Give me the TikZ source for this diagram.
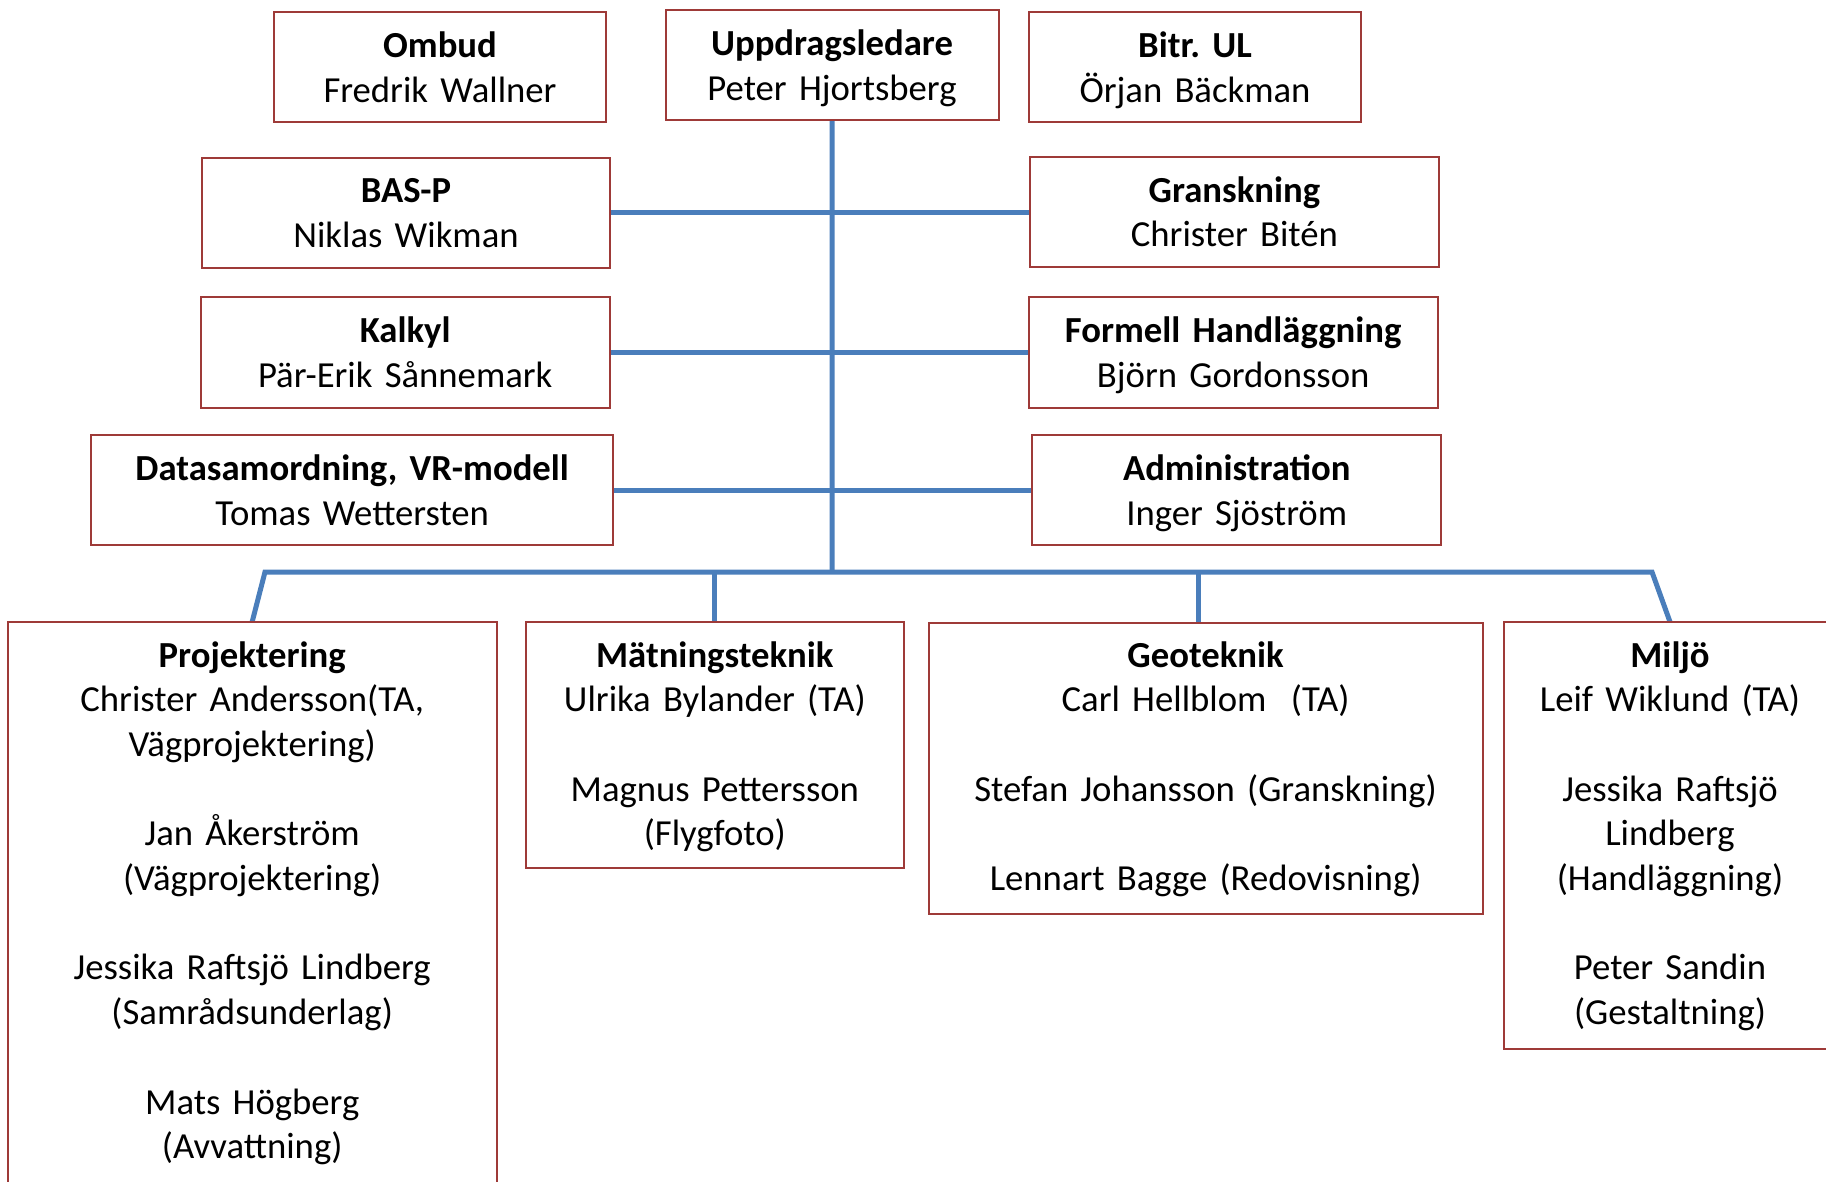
\documentclass[tikz,border=0pt]{standalone}
\usepackage{fontspec}
\setmainfont{Carlito}
\frenchspacing
\usetikzlibrary{backgrounds}
\definecolor{boxred}{RGB}{158,58,56}
\definecolor{lineblue}{RGB}{74,126,187}
\begin{document}
\begin{tikzpicture}[x=0.5pt,y=-0.5pt,
  box/.style={draw=boxred, line width=1pt, fill=white, inner sep=0pt, outer sep=0pt, anchor=north west},
  txt/.style={anchor=base, align=center, text width=340pt, inner sep=0pt, outer sep=0pt,
              font=\frenchspacing\fontsize{18.35pt}{22.35pt}\selectfont},
  conn/.style={draw=lineblue, line width=2.5pt}]
\useasboundingbox (0,0) rectangle (1826,1182);
% boxes
\node[box, minimum width=166.2pt,  minimum height=55.1pt]  (ombud) at (273.7,12.2) {};
\node[box, minimum width=166.55pt, minimum height=54.75pt] (upp)   at (665.5,10.3) {};
\node[box, minimum width=166.25pt, minimum height=55.1pt]  (bitr)  at (1028.9,12.2) {};
\node[box, minimum width=204.1pt,  minimum height=55.1pt]  (basp)  at (202,157.7) {};
\node[box, minimum width=204.4pt,  minimum height=55.1pt]  (gran)  at (1030,156.9) {};
\node[box, minimum width=204.35pt, minimum height=55.1pt]  (kalk)  at (200.9,297.3) {};
\node[box, minimum width=204.35pt, minimum height=55.1pt]  (form)  at (1028.9,297.3) {};
\node[box, minimum width=260.85pt, minimum height=55.1pt]  (data)  at (91.4,435.1) {};
\node[box, minimum width=204.35pt, minimum height=55.1pt]  (adm)   at (1032.4,435.1) {};
\node[box, minimum width=244.55pt, minimum height=290pt]   (proj)  at (7.6,621.9) {};
\node[box, minimum width=188.95pt, minimum height=123.25pt] (mat)  at (525.8,621.9) {};
\node[box, minimum width=276.9pt,  minimum height=145.55pt] (geo)  at (928.7,622.7) {};
\node[box, minimum width=166pt,    minimum height=213.5pt] (milj)  at (1504,621.9) {};
% texts
\node[txt] (t-ombud) at (440,58)     {\textbf{Ombud}\\Fredrik Wallner};
\node[txt] (t-upp)   at (832,55.5)   {\textbf{Uppdragsledare}\\Peter Hjortsberg};
\node[txt] (t-bitr)  at (1195,58)    {\textbf{Bitr. UL}\\Örjan Bäckman};
\node[txt] (t-basp)  at (406,203)    {\textbf{BAS-P}\\Niklas Wikman};
\node[txt] (t-gran)  at (1234.4,202.2) {\textbf{Granskning}\\Christer Bitén};
\node[txt] (t-kalk)  at (405.2,342.6) {\textbf{Kalkyl}\\Pär-Erik Sånnemark};
\node[txt] (t-form)  at (1233.2,342.6) {\textbf{Formell Handläggning}\\Björn Gordonsson};
\node[txt] (t-data)  at (352.2,480.4) {\textbf{Datasamordning, VR-modell}\\Tomas Wettersten};
\node[txt] (t-adm)   at (1236.7,480.4) {\textbf{Administration}\\Inger Sjöström};
\node[txt] (t-proj)  at (252.2,667) {\textbf{Projektering}\\Christer Andersson(TA,\\Vägprojektering)\\[\baselineskip]
  Jan Åkerström\\(Vägprojektering)\\[\baselineskip]
  Jessika Raftsjö Lindberg\\(Samrådsunderlag)\\[\baselineskip]
  Mats Högberg\\(Avvattning)};
\node[txt] (t-mat)   at (714.8,667) {\textbf{Mätningsteknik}\\Ulrika Bylander (TA)\\[\baselineskip]
  Magnus Pettersson\\(Flygfoto)};
\node[txt] (t-geo)   at (1205.6,667) {\textbf{Geoteknik}\\Carl Hellblom~ (TA)\\[\baselineskip]
  Stefan Johansson (Granskning)\\[\baselineskip]
  Lennart Bagge (Redovisning)};
\node[txt] (t-milj)  at (1670,667) {\textbf{Miljö}\\Leif Wiklund (TA)\\[\baselineskip]
  Jessika Raftsjö\\Lindberg\\(Handläggning)\\[\baselineskip]
  Peter Sandin\\(Gestaltning)};
% bus coordinates
\coordinate (bm)   at (832,572);
\coordinate (bl)   at (265,572);
\coordinate (br)   at (1652,572);
\coordinate (bmat) at (714,572);
\coordinate (bgeo) at (1198.3,572);
\begin{scope}[on background layer]
\draw[conn] (upp.south) -- (bm);
\draw[conn] (basp.east) -- (basp.east -| gran.west);
\draw[conn] (kalk.east) -- (kalk.east -| form.west);
\draw[conn] (data.east) -- (data.east -| adm.west);
\draw[conn] (proj.north) -- (bl) -- (br) -- (milj.north);
\draw[conn] (bmat) -- (bmat |- mat.north);
\draw[conn] (bgeo) -- (bgeo |- geo.north);
\end{scope}
\end{tikzpicture}
\end{document}
